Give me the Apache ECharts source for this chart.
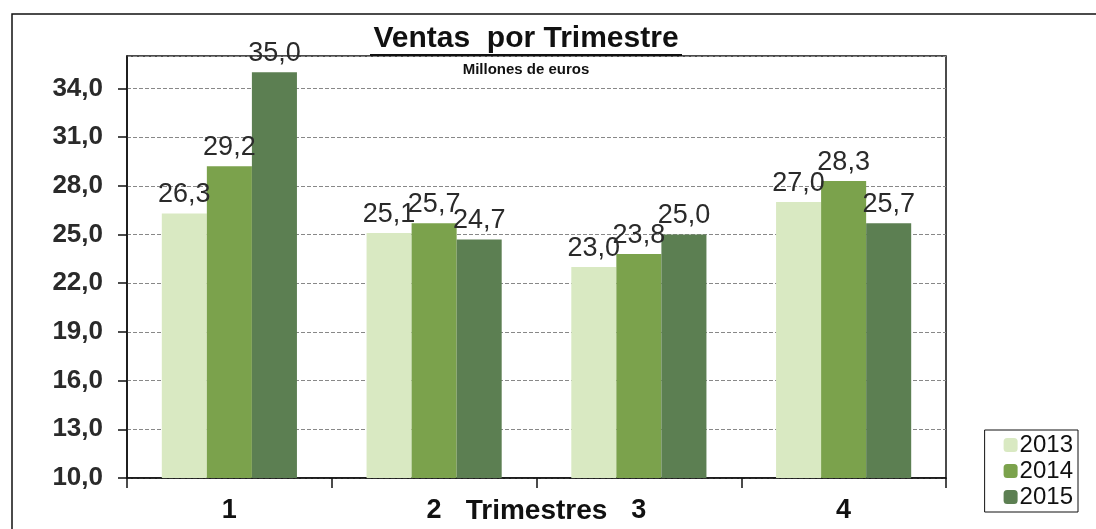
<!DOCTYPE html>
<html>
<head>
<meta charset="utf-8">
<script src="https://cdn.jsdelivr.net/npm/echarts@6/dist/echarts.min.js"></script>
<style>
  html, body { margin: 0; padding: 0; background: #fff; }
  #chart { width: 1096px; height: 529px; }
</style>
</head>
<body>
<div id="chart"></div>
<script>
const trimestres = ['1', '2', '3', '4'];
const years = ['2013', '2014', '2015'];
const ventas2013 = [26.3, 25.1, 23.0, 27.0];
const ventas2014 = [29.2, 25.7, 23.8, 28.3];
const ventas2015 = [35.0, 24.7, 25.0, 25.7];
const colores = ['#d9e9c2', '#7ba24c', '#5c7f52'];

const font = 'Liberation Sans, Arial, sans-serif';
const fmt = v => Number(v).toFixed(1).replace('.', ',');

const chart = echarts.init(document.getElementById('chart'));

const makeSeries = (name, data, color) => ({
  name: name,
  type: 'bar',
  data: data,
  barGap: '0%',
  barCategoryGap: '34%',
  itemStyle: { color: color },
  label: {
    show: true,
    position: 'top',
    distance: 5,
    formatter: p => fmt(p.value),
    color: '#2a2a2a',
    fontFamily: font,
    fontSize: 27
  }
});

const option = {
  animation: false,
  backgroundColor: '#fff',
  title: {
    text: 'Ventas  por Trimestre',
    subtext: 'Millones de euros',
    left: 526,
    top: 24,
    textAlign: 'center',
    itemGap: 8,
    padding: 0,
    textStyle: { fontFamily: font, fontSize: 30, fontWeight: 'bold', color: '#111' },
    subtextStyle: { fontFamily: font, fontSize: 15, fontWeight: 'bold', color: '#111' }
  },
  legend: {
    data: years,
    orient: 'vertical',
    right: 18,
    bottom: 17,
    itemWidth: 14,
    itemHeight: 14,
    itemGap: 2,
    padding: [3, 5, 3, 19],
    borderColor: '#111',
    borderWidth: 1,
    backgroundColor: '#fff',
    textStyle: { fontFamily: font, fontSize: 24, color: '#111', padding: [0, 0, 0, -3] }
  },
  grid: {
    left: 127,
    right: 150,
    top: 56,
    bottom: 51,
    outerBoundsMode: 'none',
    show: true,
    borderColor: '#111',
    borderWidth: 1.5,
    backgroundColor: 'transparent'
  },
  xAxis: {
    type: 'category',
    data: trimestres,
    name: 'Trimestres',
    nameLocation: 'middle',
    nameGap: 19,
    nameMoveOverlap: false,
    nameTextStyle: { fontFamily: font, fontSize: 28, fontWeight: 'bold', color: '#111' },
    axisLine: { lineStyle: { color: '#111', width: 1.5 } },
    axisTick: { show: true, length: 10, lineStyle: { color: '#111', width: 1.5 } },
    axisLabel: { fontFamily: font, fontSize: 27, fontWeight: 'bold', color: '#111', margin: 19 }
  },
  yAxis: {
    type: 'value',
    min: 10,
    max: 36,
    interval: 3,
    axisLine: { show: true, lineStyle: { color: '#111', width: 1.5 } },
    axisTick: { show: true, length: 9, lineStyle: { color: '#111', width: 1.5 } },
    axisLabel: {
      fontFamily: font,
      fontSize: 26,
      fontWeight: 'bold',
      color: '#2a2a2a',
      margin: 24,
      showMaxLabel: false,
      formatter: v => fmt(v)
    },
    splitLine: { show: true, lineStyle: { color: '#888', type: 'dashed', width: 1 } }
  },
  graphic: [
    {
      type: 'rect',
      silent: true,
      shape: { x: 12, y: 14, width: 1200, height: 700 },
      style: { fill: 'none', stroke: '#111', lineWidth: 1.5 },
      z: -1
    },
    {
      type: 'line',
      silent: true,
      shape: { x1: 370, y1: 55, x2: 682, y2: 55 },
      style: { stroke: '#111', lineWidth: 2 }
    }
  ],
  series: [
    makeSeries(years[0], ventas2013, colores[0]),
    makeSeries(years[1], ventas2014, colores[1]),
    makeSeries(years[2], ventas2015, colores[2])
  ]
};

chart.setOption(option);
window.addEventListener('resize', () => chart.resize());
</script>
</body>
</html>
